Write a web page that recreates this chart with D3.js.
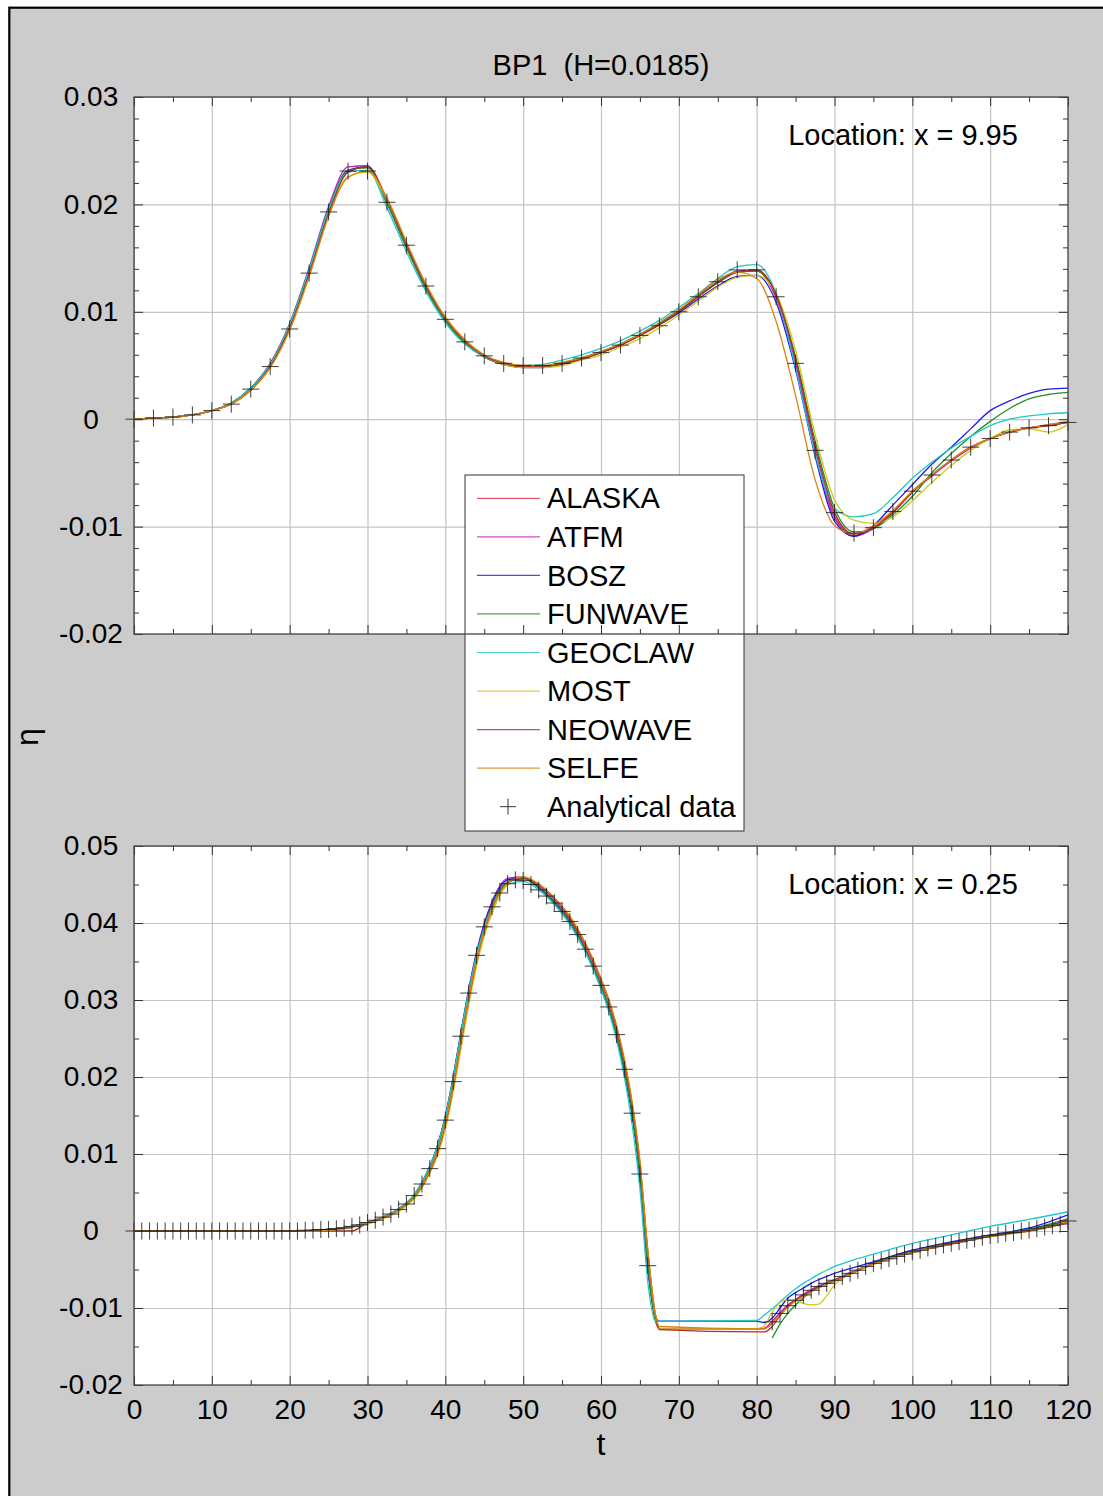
<!DOCTYPE html>
<html>
<head>
<meta charset="utf-8">
<script src="https://cdn.jsdelivr.net/npm/d3@7"></script>
<style>
  body { margin: 0; background: #fff; }
  text { font-family: "Liberation Sans", Arial, sans-serif; fill: #000; }
</style>
</head>
<body>
<div id="chart"></div>
<script>
// ---- data ----
var models = ["ALASKA", "ATFM", "BOSZ", "FUNWAVE", "GEOCLAW", "MOST", "NEOWAVE", "SELFE"];
var modelColors = ["#e8303a", "#c81ec8", "#1c1cf0", "#1f8f2a", "#20c8c8", "#d2c81c", "#a8322a", "#d88410"];

// top panel, location x = 9.95
var tTop = [0, 2.5, 5, 7.5, 10, 12.5, 15, 17.5, 20, 22.5, 25, 27.5, 30, 32.5, 35, 37.5, 40, 42.5, 45, 47.5,
  50, 52.5, 55, 57.5, 60, 62.5, 65, 67.5, 70, 72.5, 75, 77.5, 80, 82.5, 85, 87.5, 90, 92.5, 95, 97.5,
  100, 102.5, 105, 107.5, 110, 112.5, 115, 117.5, 120];
var anaTop = [0.0000, 0.0001, 0.0002, 0.0004, 0.0008, 0.0014, 0.0028, 0.0049, 0.0084, 0.0136, 0.0193, 0.0231, 0.0231, 0.0202, 0.0162, 0.0124, 0.0093, 0.0072, 0.0059, 0.0052,
  0.0050, 0.0050, 0.0052, 0.0057, 0.0062, 0.0069, 0.0078, 0.0087, 0.0100, 0.0114, 0.0128, 0.0139, 0.0139, 0.0114, 0.0052, -0.0029, -0.0087, -0.0106, -0.0101, -0.0086,
  -0.0067, -0.0052, -0.0038, -0.0026, -0.0018, -0.0012, -0.0008, -0.0006, -0.0003];
var alaskaTop = [0, 0.0001, 0.0002, 0.0004, 0.0008, 0.0015, 0.0028, 0.0050, 0.0086, 0.0137, 0.0193, 0.0231, 0.0235, 0.0203, 0.0161, 0.0123, 0.0093, 0.0072, 0.0059, 0.0052,
  0.0049, 0.0049, 0.0052, 0.0056, 0.0062, 0.0069, 0.0078, 0.0088, 0.0100, 0.0114, 0.0127, 0.0137, 0.0138, 0.0113, 0.0052, -0.0028, -0.0090, -0.0108, -0.0101, -0.0086,
  -0.0067, -0.0052, -0.0038, -0.0026, -0.0018, -0.0012, -0.0008, -0.0006, -0.0003];
var atfmTop = [0, 0.0001, 0.0002, 0.0004, 0.0008, 0.0015, 0.0029, 0.0052, 0.0089, 0.0141, 0.0198, 0.0235, 0.0236, 0.0201, 0.0160, 0.0122, 0.0092, 0.0071, 0.0058, 0.0051,
  0.0049, 0.0049, 0.0052, 0.0057, 0.0063, 0.0070, 0.0079, 0.0089, 0.0101, 0.0115, 0.0128, 0.0138, 0.0139, 0.0115, 0.0051, -0.0031, -0.0092, -0.0109, -0.0102, -0.0087,
  -0.0068, -0.0053, -0.0039, -0.0027, -0.0018, -0.0012, -0.0008, -0.0005, -0.0003];
var boszTop = [0, 0.0001, 0.0002, 0.0004, 0.0008, 0.0015, 0.0029, 0.0051, 0.0088, 0.0139, 0.0195, 0.0232, 0.0235, 0.0203, 0.0161, 0.0122, 0.0092, 0.0071, 0.0058, 0.0051,
  0.0048, 0.0048, 0.0051, 0.0056, 0.0062, 0.0069, 0.0078, 0.0088, 0.0099, 0.0112, 0.0124, 0.0133, 0.0134, 0.0109, 0.0046, -0.0034, -0.0095, -0.0109, -0.0099, -0.0080,
  -0.0061, -0.0042, -0.0026, -0.0009, 0.0008, 0.0017, 0.0024, 0.0028, 0.0029];
var funwaveTop = [0, 0.0001, 0.0002, 0.0004, 0.0008, 0.0015, 0.0029, 0.0051, 0.0088, 0.0139, 0.0195, 0.0232, 0.0234, 0.0201, 0.0160, 0.0122, 0.0092, 0.0071, 0.0058, 0.0051,
  0.0049, 0.0049, 0.0052, 0.0057, 0.0063, 0.0070, 0.0079, 0.0089, 0.0101, 0.0115, 0.0128, 0.0137, 0.0138, 0.0116, 0.0058, -0.0020, -0.0083, -0.0105, -0.0102, -0.0089,
  -0.0072, -0.0050, -0.0032, -0.0016, -0.0002, 0.0010, 0.0019, 0.0023, 0.0025];
var geoclawTop = [0, 0.0001, 0.0002, 0.0004, 0.0008, 0.0015, 0.0029, 0.0051, 0.0088, 0.0139, 0.0195, 0.0230, 0.0232, 0.0197, 0.0156, 0.0119, 0.0090, 0.0070, 0.0058, 0.0052,
  0.0050, 0.0051, 0.0055, 0.0060, 0.0066, 0.0073, 0.0082, 0.0092, 0.0104, 0.0117, 0.0131, 0.0142, 0.0144, 0.0117, 0.0048, -0.0032, -0.0083, -0.0091, -0.0088, -0.0073,
  -0.0055, -0.0040, -0.0027, -0.0016, -0.0006, 0.0000, 0.0003, 0.0005, 0.0006];
var mostTop = [0, 0.0001, 0.0002, 0.0004, 0.0008, 0.0014, 0.0027, 0.0048, 0.0083, 0.0133, 0.0189, 0.0226, 0.0230, 0.0204, 0.0163, 0.0125, 0.0094, 0.0073, 0.0059, 0.0051,
  0.0048, 0.0048, 0.0050, 0.0055, 0.0060, 0.0067, 0.0075, 0.0085, 0.0097, 0.0110, 0.0123, 0.0132, 0.0134, 0.0117, 0.0064, -0.0014, -0.0075, -0.0094, -0.0097, -0.0091,
  -0.0076, -0.0059, -0.0043, -0.0029, -0.0018, -0.0010, -0.0009, -0.0012, -0.0005];
var neowaveTop = [0, 0.0001, 0.0002, 0.0004, 0.0008, 0.0014, 0.0027, 0.0049, 0.0085, 0.0135, 0.0191, 0.0230, 0.0235, 0.0205, 0.0163, 0.0124, 0.0094, 0.0073, 0.0059, 0.0052,
  0.0049, 0.0049, 0.0052, 0.0056, 0.0062, 0.0069, 0.0078, 0.0088, 0.0100, 0.0114, 0.0127, 0.0137, 0.0139, 0.0116, 0.0056, -0.0024, -0.0087, -0.0107, -0.0101, -0.0087,
  -0.0068, -0.0052, -0.0038, -0.0026, -0.0018, -0.0012, -0.0008, -0.0006, -0.0003];
var selfeTop = [0, 0.0001, 0.0002, 0.0004, 0.0008, 0.0014, 0.0027, 0.0048, 0.0083, 0.0133, 0.0189, 0.0225, 0.0231, 0.0206, 0.0165, 0.0126, 0.0095, 0.0074, 0.0060, 0.0053,
  0.0050, 0.0050, 0.0053, 0.0057, 0.0063, 0.0070, 0.0079, 0.0090, 0.0102, 0.0116, 0.0130, 0.0137, 0.0131, 0.0091, 0.0022, -0.0056, -0.0099, -0.0107, -0.0099, -0.0085,
  -0.0067, -0.0052, -0.0038, -0.0026, -0.0018, -0.0012, -0.0008, -0.0005, -0.0002];

// bottom panel, location x = 0.25 (analytical sampled every unit, dry between 67 and 81)
var tAnaBot = [0, 1, 2, 3, 4, 5, 6, 7, 8, 9, 10, 11, 12, 13, 14, 15, 16, 17, 18, 19, 20, 21, 22, 23, 24, 25, 26, 27, 28, 29,
  30, 31, 32, 33, 34, 35, 36, 37, 38, 39, 40, 41, 42, 43, 44, 45, 46, 47, 48, 49, 50, 51, 52, 53, 54, 55, 56, 57, 58, 59,
  60, 61, 62, 63, 64, 65, 66, 67, 68, 69, 70, 71, 72, 73, 74, 75, 76, 77, 78, 79, 80, 81, 82, 83, 84, 85, 86, 87, 88, 89,
  90, 91, 92, 93, 94, 95, 96, 97, 98, 99, 100, 101, 102, 103, 104, 105, 106, 107, 108, 109, 110, 111, 112, 113, 114, 115, 116, 117, 118, 119, 120];
var anaBot = [0, 0, 0, 0, 0, 0, 0, 0, 0, 0, 0, 0, 0, 0, 0, 0, 0, 0, 0, 0, 0, 0, 0.0001, 0.0001, 0.0002, 0.0002, 0.0003, 0.0004, 0.0006, 0.0008,
  0.0011, 0.0014, 0.0018, 0.0022, 0.0028, 0.0035, 0.0046, 0.0061, 0.0081, 0.0107, 0.0144, 0.0194, 0.0253, 0.0309, 0.0358, 0.0395, 0.0421, 0.0439, 0.0451, 0.0456,
  0.0455, 0.0450, 0.0443, 0.0435, 0.0426, 0.0415, 0.0402, 0.0385, 0.0366, 0.0344, 0.0319, 0.0291, 0.0255, 0.0210, 0.0153, 0.0074, -0.0045, null, null, null,
  null, null, null, null, null, null, null, null, null, null, null, null, -0.0118, -0.0107, -0.0097, -0.0090, -0.0083, -0.0077, -0.0072, -0.0068,
  -0.0064, -0.0059, -0.0055, -0.0051, -0.0046, -0.0042, -0.0039, -0.0036, -0.0033, -0.0030, -0.0027, -0.0025, -0.0022, -0.0020, -0.0018, -0.0016, -0.0014, -0.0012, -0.0010, -0.0008,
  -0.0006, -0.0005, -0.0003, -0.0002, 0.0000, 0.0001, 0.0003, 0.0005, 0.0007, 0.0009, 0.0013];

var tBot = [0, 10, 20, 25, 28, 30, 32, 34, 36, 37, 38, 39, 40, 41, 42, 43, 44, 46, 48, 50, 52, 54, 56, 58, 60,
  61, 62, 63, 64, 65, 66, 67, 67.5, 80, 81, 82, 83, 84, 85, 86, 87, 88, 89, 90, 92, 95, 100, 105, 110, 115, 120];
var alaskaBot = [0, 0, 0, 0.0002, 0.0006, 0.0011, 0.0018, 0.0028, 0.0046, 0.0061, 0.0081, 0.0107, 0.0144, 0.0194, 0.0252, 0.0308, 0.0356, 0.0422, 0.0453, 0.0458, 0.0446, 0.0428, 0.0403, 0.0367, 0.0320,
  0.0292, 0.0257, 0.0212, 0.0155, 0.0077, -0.0040, -0.0115, -0.0127, -0.0127, -0.0127, -0.0119, -0.0108, -0.0097, -0.0090, -0.0083, -0.0077, -0.0072, -0.0068, -0.0064, -0.0055, -0.0042, -0.0027, -0.0016, -0.0006, 0.0001, 0.0013];
var atfmBot = [0, 0, 0, 0.0002, 0.0006, 0.0011, 0.0018, 0.0029, 0.0047, 0.0063, 0.0084, 0.0111, 0.0149, 0.0200, 0.0258, 0.0314, 0.0362, 0.0428, 0.0458, 0.0460, 0.0447, 0.0428, 0.0403, 0.0366, 0.0319,
  0.0290, 0.0255, 0.0210, 0.0152, 0.0073, -0.0044, -0.0117, -0.0127, -0.0127, -0.0126, -0.0117, -0.0106, -0.0096, -0.0089, -0.0082, -0.0076, -0.0071, -0.0067, -0.0063, -0.0054, -0.0042, -0.0027, -0.0016, -0.0006, 0.0002, 0.0014];
var boszBot = [0, 0, 0, 0.0002, 0.0006, 0.0011, 0.0018, 0.0029, 0.0047, 0.0063, 0.0084, 0.0111, 0.0149, 0.0199, 0.0257, 0.0312, 0.0360, 0.0426, 0.0456, 0.0459, 0.0446, 0.0427, 0.0401, 0.0364, 0.0317,
  0.0288, 0.0252, 0.0206, 0.0150, 0.0070, -0.0048, -0.0112, -0.0117, -0.0117, -0.0119, -0.0113, -0.0100, -0.0087, -0.0080, -0.0074, -0.0068, -0.0063, -0.0059, -0.0055, -0.0049, -0.0040, -0.0025, -0.0014, -0.0005, 0.0004, 0.0021];
var funwaveBot = [0, 0, 0, 0.0002, 0.0006, 0.0011, 0.0018, 0.0029, 0.0047, 0.0063, 0.0083, 0.0110, 0.0148, 0.0198, 0.0256, 0.0311, 0.0358, 0.0423, 0.0453, 0.0458, 0.0445, 0.0426, 0.0401, 0.0364, 0.0318,
  0.0290, 0.0255, 0.0210, 0.0153, 0.0074, -0.0043, -0.0116, -0.0127, null, null, -0.0139, -0.0121, -0.0107, -0.0096, -0.0087, -0.0079, -0.0073, -0.0068, -0.0064, -0.0055, -0.0042, -0.0027, -0.0016, -0.0006, 0.0002, 0.0016];
var geoclawBot = [0, 0, 0, 0.0002, 0.0006, 0.0011, 0.0018, 0.0029, 0.0047, 0.0063, 0.0084, 0.0111, 0.0148, 0.0198, 0.0256, 0.0311, 0.0357, 0.0420, 0.0450, 0.0454, 0.0443, 0.0424, 0.0398, 0.0362, 0.0314,
  0.0285, 0.0248, 0.0200, 0.0138, 0.0055, -0.0065, -0.0117, -0.0117, -0.0116, -0.0109, -0.0101, -0.0092, -0.0083, -0.0075, -0.0068, -0.0062, -0.0056, -0.0051, -0.0046, -0.0039, -0.0030, -0.0016, -0.0005, 0.0006, 0.0015, 0.0025];
var mostBot = [0, 0, 0, 0.0001, 0.0005, 0.0009, 0.0016, 0.0025, 0.0042, 0.0056, 0.0075, 0.0098, 0.0132, 0.0180, 0.0236, 0.0293, 0.0343, 0.0413, 0.0450, 0.0460, 0.0450, 0.0432, 0.0408, 0.0373, 0.0327,
  0.0300, 0.0265, 0.0222, 0.0165, 0.0088, -0.0028, -0.0112, -0.0127, -0.0127, -0.0123, -0.0105, -0.0093, -0.0089, -0.0090, -0.0094, -0.0096, -0.0095, -0.0084, -0.0070, -0.0056, -0.0043, -0.0027, -0.0016, -0.0007, 0.0001, 0.0012];
var neowaveBot = [0, 0, 0, 0, 0, 0.0011, 0.0017, 0.0027, 0.0044, 0.0058, 0.0077, 0.0102, 0.0138, 0.0186, 0.0244, 0.0300, 0.0350, 0.0418, 0.0452, 0.0459, 0.0449, 0.0431, 0.0406, 0.0371, 0.0325,
  0.0298, 0.0263, 0.0219, 0.0163, 0.0087, -0.0025, -0.0110, -0.0128, -0.0131, -0.0131, -0.0124, -0.0110, -0.0098, -0.0090, -0.0084, -0.0078, -0.0073, -0.0069, -0.0065, -0.0056, -0.0043, -0.0028, -0.0017, -0.0007, 0.0000, 0.0011];
var selfeBot = [0, 0, 0, 0.0001, 0.0005, 0.0010, 0.0017, 0.0027, 0.0044, 0.0059, 0.0078, 0.0104, 0.0140, 0.0188, 0.0246, 0.0302, 0.0351, 0.0419, 0.0452, 0.0460, 0.0451, 0.0433, 0.0409, 0.0374, 0.0328,
  0.0301, 0.0267, 0.0224, 0.0168, 0.0092, -0.0022, -0.0108, -0.0124, -0.0127, -0.0127, -0.0120, -0.0109, -0.0099, -0.0091, -0.0085, -0.0079, -0.0074, -0.0069, -0.0065, -0.0056, -0.0043, -0.0028, -0.0017, -0.0007, 0.0000, 0.0011];

var topSeries = [alaskaTop, atfmTop, boszTop, funwaveTop, geoclawTop, mostTop, neowaveTop, selfeTop];
var botSeries = [alaskaBot, atfmBot, boszBot, funwaveBot, geoclawBot, mostBot, neowaveBot, selfeBot];

// ticks
var xMajor = [0, 10, 20, 30, 40, 50, 60, 70, 80, 90, 100, 110, 120];
var xMinor = [5, 15, 25, 35, 45, 55, 65, 75, 85, 95, 105, 115];
var xLabels = ["0", "10", "20", "30", "40", "50", "60", "70", "80", "90", "100", "110", "120"];
var yMajorTop = [-0.02, -0.01, 0, 0.01, 0.02, 0.03];
var yLabelsTop = ["-0.02", "-0.01", "0", "0.01", "0.02", "0.03"];
var yMinorTop = [-0.018, -0.016, -0.014, -0.012, -0.008, -0.006, -0.004, -0.002, 0.002, 0.004, 0.006, 0.008,
  0.012, 0.014, 0.016, 0.018, 0.022, 0.024, 0.026, 0.028];
var yMajorBot = [-0.02, -0.01, 0, 0.01, 0.02, 0.03, 0.04, 0.05];
var yLabelsBot = ["-0.02", "-0.01", "0", "0.01", "0.02", "0.03", "0.04", "0.05"];
var yMinorBot = [-0.015, -0.005, 0.005, 0.015, 0.025, 0.035, 0.045];

// ---- drawing ----
var W = 1103, H = 1496;
var svg = d3.select("#chart").append("svg").attr("width", W).attr("height", H);

svg.append("rect").attr("x", 9.3).attr("y", 7.7).attr("width", W + 20).attr("height", H + 20)
  .attr("fill", "#cccccc").attr("stroke", "#000").attr("stroke-width", 2.2);

var x = d3.scaleLinear().domain([0, 120]).range([134, 1068]);

svg.append("text").attr("x", 601).attr("y", 65).attr("dy", "0.35em")
  .attr("text-anchor", "middle").style("font-size", "29px").style("white-space", "pre")
  .text("BP1  (H=0.0185)");

svg.append("text").attr("transform", "translate(38,737) rotate(-90)")
  .attr("text-anchor", "middle").style("font-size", "32px").text("η");
svg.append("text").attr("x", 601).attr("y", 1455)
  .attr("text-anchor", "middle").style("font-size", "32px").text("t");

function panelBody(y, yMajor, times, series, anaT, ana, loc) {
  var x0 = x.range()[0], x1 = x.range()[1];
  var yb = y.range()[0], yt = y.range()[1];
  var g = svg.append("g");
  g.append("rect").attr("x", x0).attr("y", yt).attr("width", x1 - x0).attr("height", yb - yt).attr("fill", "#fff");

  // grid
  g.append("g").attr("transform", `translate(0,${yb})`)
    .call(d3.axisBottom(x).tickValues(xMajor).tickSize(-(yb - yt)).tickFormat(""))
    .call(s => s.select(".domain").remove())
    .selectAll("line").attr("stroke", "#c4c4c4").attr("stroke-width", 1.2);
  g.append("g").attr("transform", `translate(${x0},0)`)
    .call(d3.axisLeft(y).tickValues(yMajor).tickSize(-(x1 - x0)).tickFormat(""))
    .call(s => s.select(".domain").remove())
    .selectAll("line").attr("stroke", "#c4c4c4").attr("stroke-width", 1.2);

  // model curves
  series.forEach(function(vals, i) {
    var pts = times.map((t, k) => [t, vals[k]]);
    var line = d3.line().defined(d => d[1] !== null)
      .x(d => x(d[0])).y(d => y(d[1])).curve(d3.curveMonotoneX);
    g.append("path").datum(pts).attr("d", line)
      .attr("fill", "none").attr("stroke", modelColors[i]).attr("stroke-width", 1.3);
  });

  // analytical crosses
  var pts = anaT.map((t, k) => [t, ana[k]]).filter(d => d[1] !== null);
  g.selectAll(".cross").data(pts).enter().append("path")
    .attr("d", d => {
      var cx = x(d[0]), cy = y(d[1]);
      return `M${cx - 8.5},${cy}H${cx + 8.5}M${cx},${cy - 8.5}V${cy + 8.5}`;
    })
    .attr("stroke", "#1e1e1e").attr("stroke-width", 1).attr("fill", "none").attr("opacity", 0.85);

  svg.append("text").attr("x", 903).attr("y", yt + 38).attr("dy", "0.35em")
    .attr("text-anchor", "middle").style("font-size", "29px").text(loc);
}

function panelAxes(y, yMajor, yMinor, yLabels, showX) {
  var x0 = x.range()[0], x1 = x.range()[1];
  var yb = y.range()[0], yt = y.range()[1];
  var g = svg.append("g");
  function ticks(axis, tr, size) {
    var a = g.append("g").attr("transform", tr).call(axis.tickSize(size));
    a.select(".domain").remove();
    a.selectAll("line").attr("stroke", "#333").attr("stroke-width", 1);
    return a;
  }
  ticks(d3.axisBottom(x).tickValues(xMajor).tickFormat(""), `translate(0,${yb})`, -9);
  ticks(d3.axisBottom(x).tickValues(xMinor).tickFormat(""), `translate(0,${yb})`, -5);
  ticks(d3.axisTop(x).tickValues(xMajor).tickFormat(""), `translate(0,${yt})`, -9);
  ticks(d3.axisTop(x).tickValues(xMinor).tickFormat(""), `translate(0,${yt})`, -5);
  ticks(d3.axisRight(y).tickValues(yMajor).tickFormat(""), `translate(${x1},0)`, -9);
  ticks(d3.axisRight(y).tickValues(yMinor).tickFormat(""), `translate(${x1},0)`, -5);
  ticks(d3.axisLeft(y).tickValues(yMinor).tickFormat(""), `translate(${x0},0)`, -5);
  var left = ticks(d3.axisLeft(y).tickValues(yMajor).tickFormat((d, i) => yLabels[i]), `translate(${x0},0)`, -9);
  left.selectAll("text").attr("x", -43).attr("text-anchor", "middle")
    .style("font-size", "28px").attr("fill", "#000");
  if (showX) {
    var bot = g.append("g").attr("transform", `translate(0,${yb})`)
      .call(d3.axisBottom(x).tickValues(xMajor).tickSize(0).tickPadding(14).tickFormat((d, i) => xLabels[i]));
    bot.select(".domain").remove();
    bot.selectAll("text").style("font-size", "28px").attr("fill", "#000");
  }
  g.append("rect").attr("x", x0).attr("y", yt).attr("width", x1 - x0).attr("height", yb - yt)
    .attr("fill", "none").attr("stroke", "#444").attr("stroke-width", 1.3);
}

var yTop = d3.scaleLinear().domain([-0.02, 0.03]).range([634, 97]);
var yBot = d3.scaleLinear().domain([-0.02, 0.05]).range([1385, 846]);

panelBody(yTop, yMajorTop, tTop, topSeries, tTop, anaTop, "Location: x = 9.95");
panelBody(yBot, yMajorBot, tBot, botSeries, tAnaBot, anaBot, "Location: x = 0.25");

// legend (the top panel's axes are painted over it)
var lg = svg.append("g");
lg.append("rect").attr("x", 465).attr("y", 475).attr("width", 279).attr("height", 356)
  .attr("fill", "#fff").attr("stroke", "#333").attr("stroke-width", 1);
var legendNames = models.concat(["Analytical data"]);
legendNames.forEach(function(name, i) {
  var ly = 498.3 + i * 38.55;
  if (i < models.length) {
    lg.append("line").attr("x1", 477).attr("x2", 540).attr("y1", ly).attr("y2", ly)
      .attr("stroke", modelColors[i]).attr("stroke-width", 1.2).attr("opacity", 0.8);
  } else {
    lg.append("path").attr("d", `M500,${ly}H516M508,${ly - 8}V${ly + 8}`)
      .attr("stroke", "#333").attr("stroke-width", 1);
  }
  lg.append("text").attr("x", 547).attr("y", ly).attr("dy", "0.35em")
    .style("font-size", "29px").text(name);
});

panelAxes(yTop, yMajorTop, yMinorTop, yLabelsTop, false);
panelAxes(yBot, yMajorBot, yMinorBot, yLabelsBot, true);
</script>
</body>
</html>
